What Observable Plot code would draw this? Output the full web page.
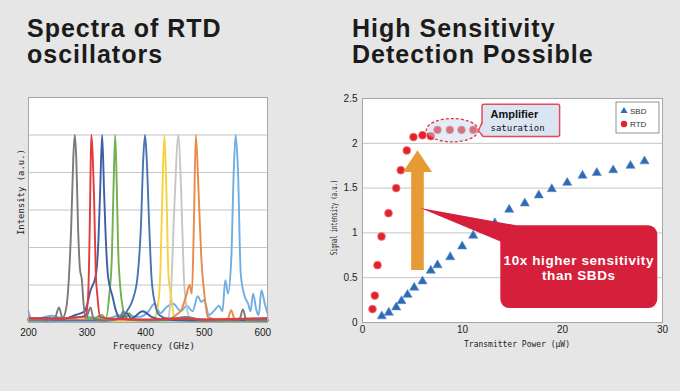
<!DOCTYPE html>
<html><head><meta charset="utf-8">
<script src="https://cdn.jsdelivr.net/npm/d3@7"></script>
<script src="https://cdn.jsdelivr.net/npm/@observablehq/plot@0.6"></script>
<style>
html,body{margin:0;padding:0;}
body{width:680px;height:391px;background:#e6e6e6;position:relative;overflow:hidden;font-family:"Liberation Sans",Arial,sans-serif;}
.title{position:absolute;font-weight:bold;font-size:25px;line-height:26.7px;letter-spacing:1px;color:#1b1b1b;white-space:nowrap;}
#left{position:absolute;left:0;top:85px;}
#right{position:absolute;left:320px;top:85px;}
</style></head><body>
<div class="title" style="left:27px;top:14.7px">Spectra of RTD<br>oscillators</div>
<div class="title" style="left:352px;top:14.7px">High Sensitivity<br>Detection Possible</div>
<div id="left"></div><div id="right"></div>
<script>
// ---------- Left chart: spectra (frequency GHz, intensity a.u.) ----------
const freqTicks = [200, 300, 400, 500, 600];
const intensityGrid = [1, 2, 3, 4, 5];
const specGray = [[200,0.06],[215,0.1],[228,0.05],[245,0.12],[252,0.4],[258,0.12],[264,0.35],[269,1.2],[273,2.6],[276.5,4.4],[279,5],[281.5,4.4],[284.5,2.6],[288,1.4],[291,1.15],[294,0.5],[298,0.12],[306,0.4],[311,0.1],[330,0.05],[355,0.1],[362,0.3],[368,0.08],[400,0.05],[440,0.08],[470,0.15],[500,0.05],[560,0.08],[566,0.35],[572,0.06],[608,0.05]];
const specRed = [[200,0.12],[240,0.1],[270,0.12],[290,0.15],[298,0.2],[301.7,0.7],[304.6,2.6],[306.3,4.4],[307.4,5],[309.7,4.4],[312,3.3],[314.9,1.3],[317.7,0.7],[322,0.15],[340,0.1],[400,0.08],[450,0.1],[500,0.08],[560,0.1],[608,0.12]];
const specNavy = [[200,0.08],[230,0.12],[260,0.1],[280,0.2],[296,0.3],[306,0.86],[315,1.26],[319.4,2.2],[322.3,3.5],[325.7,5],[329,3.5],[332,2.2],[336,1.2],[343.4,0.7],[349,0.33],[357.7,0.1],[368,0.25],[375,0.1],[395,0.3],[410,0.15],[430,0.08],[480,0.05],[608,0.06]];
const specGreen = [[200,0.08],[250,0.1],[290,0.15],[310,0.1],[325,0.2],[332,0.1],[337.7,0.7],[342.3,1.75],[345,3.5],[348,5],[350.9,3.5],[353,2],[356.6,0.95],[360.6,0.42],[366,0.1],[372,0.25],[380,0.08],[420,0.05],[608,0.05]];
const specBlue = [[200,0.05],[330,0.05],[360,0.15],[369,0.33],[377.7,0.6],[386,1.2],[392,2.6],[396,4.4],[398.9,5],[401.7,4.4],[406,2.6],[410,1.2],[416,0.5],[423,0.2],[440,0.1],[460,0.12],[500,0.08],[608,0.06]];
const specYellow = [[200,0.05],[400,0.05],[414,0.1],[420.6,0.42],[425,1.3],[428.6,3.5],[432,5],[435.4,3.5],[438.9,1.3],[443.4,0.7],[449,0.15],[470,0.05],[608,0.04]];
const specSilver = [[200,0.04],[430,0.05],[438,0.1],[443.4,0.86],[449,3.1],[456,5],[460.6,3.5],[465,1.3],[469.7,0.42],[478,0.06],[608,0.04]];
const specOrange = [[200,0.07],[300,0.08],[400,0.07],[440,0.1],[452,0.2],[460.6,0.33],[469,0.7],[474.9,1.0],[478.9,0.77],[482.3,2.6],[485.7,5],[490.3,3.5],[494.9,1.75],[500.6,0.7],[506,0.15],[520,0.08],[540,0.1],[546,0.33],[552,0.08],[608,0.06]];
const specSky = [[200,0.3],[205,0.1],[220,0.12],[240,0.18],[260,0.1],[300,0.15],[330,0.1],[360,0.2],[390,0.15],[405,0.3],[414.9,0.5],[425,0.25],[435,0.4],[447,0.5],[460,0.3],[470,0.45],[480,0.3],[489,0.7],[495,0.55],[500,0.6],[508,0.2],[517.7,0.33],[525,0.45],[531,0.3],[536,1.13],[540.6,0.77],[546.3,1.75],[550.3,4.0],[553.7,5],[557.7,4],[562.3,1.3],[569,0.7],[574.9,0.5],[579,0.3],[583.4,0.77],[589,0.33],[593,0.2],[597.7,0.86],[603.4,0.5],[608,0.24]];
const seriesNames = ["sky","silver","yellow","orange","blue","green","navy","gray","red"];
const seriesData = [specSky, specSilver, specYellow, specOrange, specBlue, specGreen, specNavy, specGray, specRed];
const seriesColors = ["#6eaee3","#c6c6c6","#f6d23f","#e98a4a","#4a73b6","#72b04e","#3b5ea6","#7a7a7a","#e43a3b"];

// ---------- Right chart: signal vs transmitter power ----------
const powerTicks = [0, 10, 20, 30];
const signalTicks = [0, 0.5, 1, 1.5, 2, 2.5];
const rtdPower  = [1.0,1.23,1.5,1.9,2.6,3.37,3.83,4.43,5.1,6.0,6.83,7.5,8.73,9.9,11.07];
const rtdSignal = [0.15,0.30,0.64,0.96,1.22,1.50,1.70,1.92,2.07,2.09,2.08,2.15,2.15,2.15,2.15];
const sbdPower  = [1.93,2.63,3.37,3.9,4.5,5.17,6.0,6.83,7.5,8.77,9.97,11.07,12.23,13.23,14.67,16.23,17.63,18.93,20.47,22.0,23.43,25.07,26.8,28.2];
const sbdSignal = [0.07,0.11,0.17,0.24,0.31,0.39,0.46,0.58,0.64,0.73,0.85,0.97,1.08,1.11,1.26,1.33,1.42,1.49,1.56,1.64,1.67,1.70,1.75,1.80];
const legendLabels = ["SBD", "RTD"];
const calloutText = ["10x higher sensitivity", "than SBDs"];
const saturationText = ["Amplifier", "saturation"];

const rows = seriesNames.flatMap((s, k) => seriesData[k].map(([f, v]) => ({s, f, v})));
const rtd = rtdPower.map((p, i) => ({p, v: rtdSignal[i]}));
const sbd = sbdPower.map((p, i) => ({p, v: sbdSignal[i]}));

const tickFont = {background:"transparent", fontFamily:"'Liberation Sans', Arial, sans-serif", fontSize:"10px", color:"#222", overflow:"visible"};
const monoFont = "'DejaVu Sans Mono', monospace";

const left = Plot.plot({
  width: 280, height: 270, marginLeft: 28, marginRight: 13, marginTop: 12, marginBottom: 33,
  style: tickFont,
  x: {domain: [200, 608], ticks: freqTicks, tickSize: 0, tickPadding: 6, label: null},
  y: {domain: [0, 6], axis: null},
  color: {domain: seriesNames, range: seriesColors},
  marks: [
    Plot.frame({fill: "white"}),
    Plot.ruleY(intensityGrid, {stroke: "#c4c4c4", strokeWidth: 1}),
    Plot.line(rows, {x: "f", y: "v", z: "s", stroke: "s", strokeWidth: 1.9, curve: "monotone-x"}),
    Plot.frame({stroke: "#a6a6a6"})
  ]
});
document.getElementById("left").appendChild(left);
{
  const g = d3.select(left).append("g").attr("font-family", monoFont).attr("fill", "#222").attr("font-size", 9.5);
  g.append("text").attr("x", 154).attr("y", 264).attr("text-anchor", "middle")
    .attr("textLength", 82).attr("lengthAdjust", "spacingAndGlyphs").text("Frequency (GHz)");
  g.append("text").attr("transform", "translate(24,107) rotate(-90)").attr("text-anchor", "middle")
    .attr("textLength", 86).attr("lengthAdjust", "spacingAndGlyphs").text("Intensity (a.u.)");
}

const right = Plot.plot({
  width: 360, height: 270, marginLeft: 42, marginRight: 18, marginTop: 13, marginBottom: 33,
  style: tickFont,
  x: {domain: [0, 30], ticks: powerTicks, tickSize: 0, tickPadding: 3, label: null},
  y: {domain: [0, 2.5], ticks: signalTicks, tickFormat: d => String(d), tickSize: 0, tickPadding: 5, label: null},
  marks: [
    Plot.frame({fill: "white"}),
    Plot.ruleY(signalTicks.slice(1, -1), {stroke: "#c4c4c4", strokeWidth: 1}),
    Plot.frame({stroke: "#a6a6a6"}),
    Plot.dot(sbd, {x: "p", y: "v", symbol: "triangle", r: 3.4, fill: "#2c6cb4", stroke: "#5a8ccc", strokeWidth: 0.6}),
    Plot.dot(rtd, {x: "p", y: "v", r: 3.9, fill: "#e1212b", stroke: "#f07a80", strokeWidth: 0.8})
  ]
});
document.getElementById("right").appendChild(right);
{
  const sx = right.scale("x").apply, sy = right.scale("y").apply;
  const svg = d3.select(right);
  const g = svg.append("g").attr("text-anchor", "start");
  // Orange arrow
  const ax = sx(5.55), ab = sy(0.58), ah = sy(1.674), at = sy(1.916);
  g.append("polygon").attr("fill", "#e59b36")
    .attr("points", [[ax-6.3,ab],[ax-6.3,ah],[ax-14.5,ah],[ax,at],[ax+14.5,ah],[ax+6.3,ah],[ax+6.3,ab]].join(" "));
  // Red callout
  const bx0 = sx(13.83), bx1 = sx(29.53), by0 = sy(1.079), by1 = sy(0.156);
  const tx = sx(5.83), ty = sy(1.272);
  g.append("polygon").attr("fill", "#d61f3b")
    .attr("points", [[tx,ty],[bx0+16,by0],[bx0+2,by0+17]].join(" "));
  g.append("rect").attr("x", bx0).attr("y", by0).attr("width", bx1-bx0).attr("height", by1-by0)
    .attr("rx", 9).attr("fill", "#d61f3b");
  const t = g.append("g").attr("fill", "white").attr("font-weight", "bold").attr("font-size", 13.5)
    .attr("text-anchor", "middle").attr("letter-spacing", 0.6).attr("font-family", "'Liberation Sans', Arial, sans-serif");
  t.append("text").attr("x", (bx0+bx1)/2).attr("y", by0+39.5).text(calloutText[0]);
  t.append("text").attr("x", (bx0+bx1)/2).attr("y", by0+54.5).text(calloutText[1]);
  // Saturation ellipse
  g.append("ellipse").attr("cx", sx(9.03)).attr("cy", sy(2.14)).attr("rx", 26).attr("ry", 11.7)
    .attr("fill", "rgba(196,212,234,0.45)").attr("stroke", "#e8333f").attr("stroke-width", 1.3).attr("stroke-dasharray", "3,2");
  // Amplifier saturation box
  const sx0 = sx(12.0), sx1 = sx(19.76), sy0 = sy(2.43), sy1 = sy(2.07);
  g.append("rect").attr("x", sx0).attr("y", sy0).attr("width", sx1-sx0).attr("height", sy1-sy0).attr("rx", 2)
    .attr("fill", "#dbe5f1").attr("stroke", "#e8485a").attr("stroke-width", 1.5);
  const px = sx(11.66), py = sy(2.135);
  g.append("polygon").attr("fill", "#dbe5f1").attr("points", [[px,py],[sx0+1.5,sy0+18],[sx0+1.5,sy0+31]].join(" "));
  g.append("polyline").attr("fill", "none").attr("stroke", "#e8485a").attr("stroke-width", 1.3)
    .attr("points", [[sx0,sy0+18],[px,py],[sx0,sy0+31]].join(" "));
  g.append("text").attr("x", sx0+8.5).attr("y", sy0+14).attr("font-weight", "bold").attr("font-size", 11)
    .attr("font-family", "'Liberation Sans', Arial, sans-serif").attr("fill", "#111").text(saturationText[0]);
  g.append("text").attr("x", sx0+8.5).attr("y", sy0+26.5).attr("font-size", 9).attr("font-family", monoFont)
    .attr("fill", "#111").text(saturationText[1]);
  // Legend
  const lx = 296, ly = 17;
  const lg = svg.append("g").attr("text-anchor", "start");
  lg.append("rect").attr("x", lx).attr("y", ly).attr("width", 43).attr("height", 31)
    .attr("fill", "white").attr("stroke", "#777").attr("stroke-width", 0.8);
  lg.append("path").attr("d", d3.symbol(d3.symbolTriangle, 22)()).attr("transform", `translate(${lx+8},${ly+9})`).attr("fill", "#2c6cb4");
  lg.append("circle").attr("cx", lx+8).attr("cy", ly+22).attr("r", 3.2).attr("fill", "#e1212b");
  const lt = lg.append("g").attr("font-size", 8).attr("fill", "#333").attr("font-family", "'Liberation Sans Narrow', 'Liberation Sans', sans-serif");
  lt.append("text").attr("x", lx+14).attr("y", ly+12).text(legendLabels[0]);
  lt.append("text").attr("x", lx+14).attr("y", ly+25).text(legendLabels[1]);
  // Axis labels
  const al = svg.append("g").attr("font-family", monoFont).attr("fill", "#222").attr("font-size", 9);
  al.append("text").attr("x", 197).attr("y", 261.5).attr("text-anchor", "middle")
    .attr("textLength", 106).attr("lengthAdjust", "spacingAndGlyphs").text("Transmitter Power (\u03bcW)");
  al.append("text").attr("transform", "translate(16.5,132.5) rotate(-90)").attr("text-anchor", "middle").attr("font-size", 8.5)
    .attr("textLength", 75).attr("lengthAdjust", "spacingAndGlyphs").text("Signal intensity (a.u.)");
}
</script>
</body></html>
